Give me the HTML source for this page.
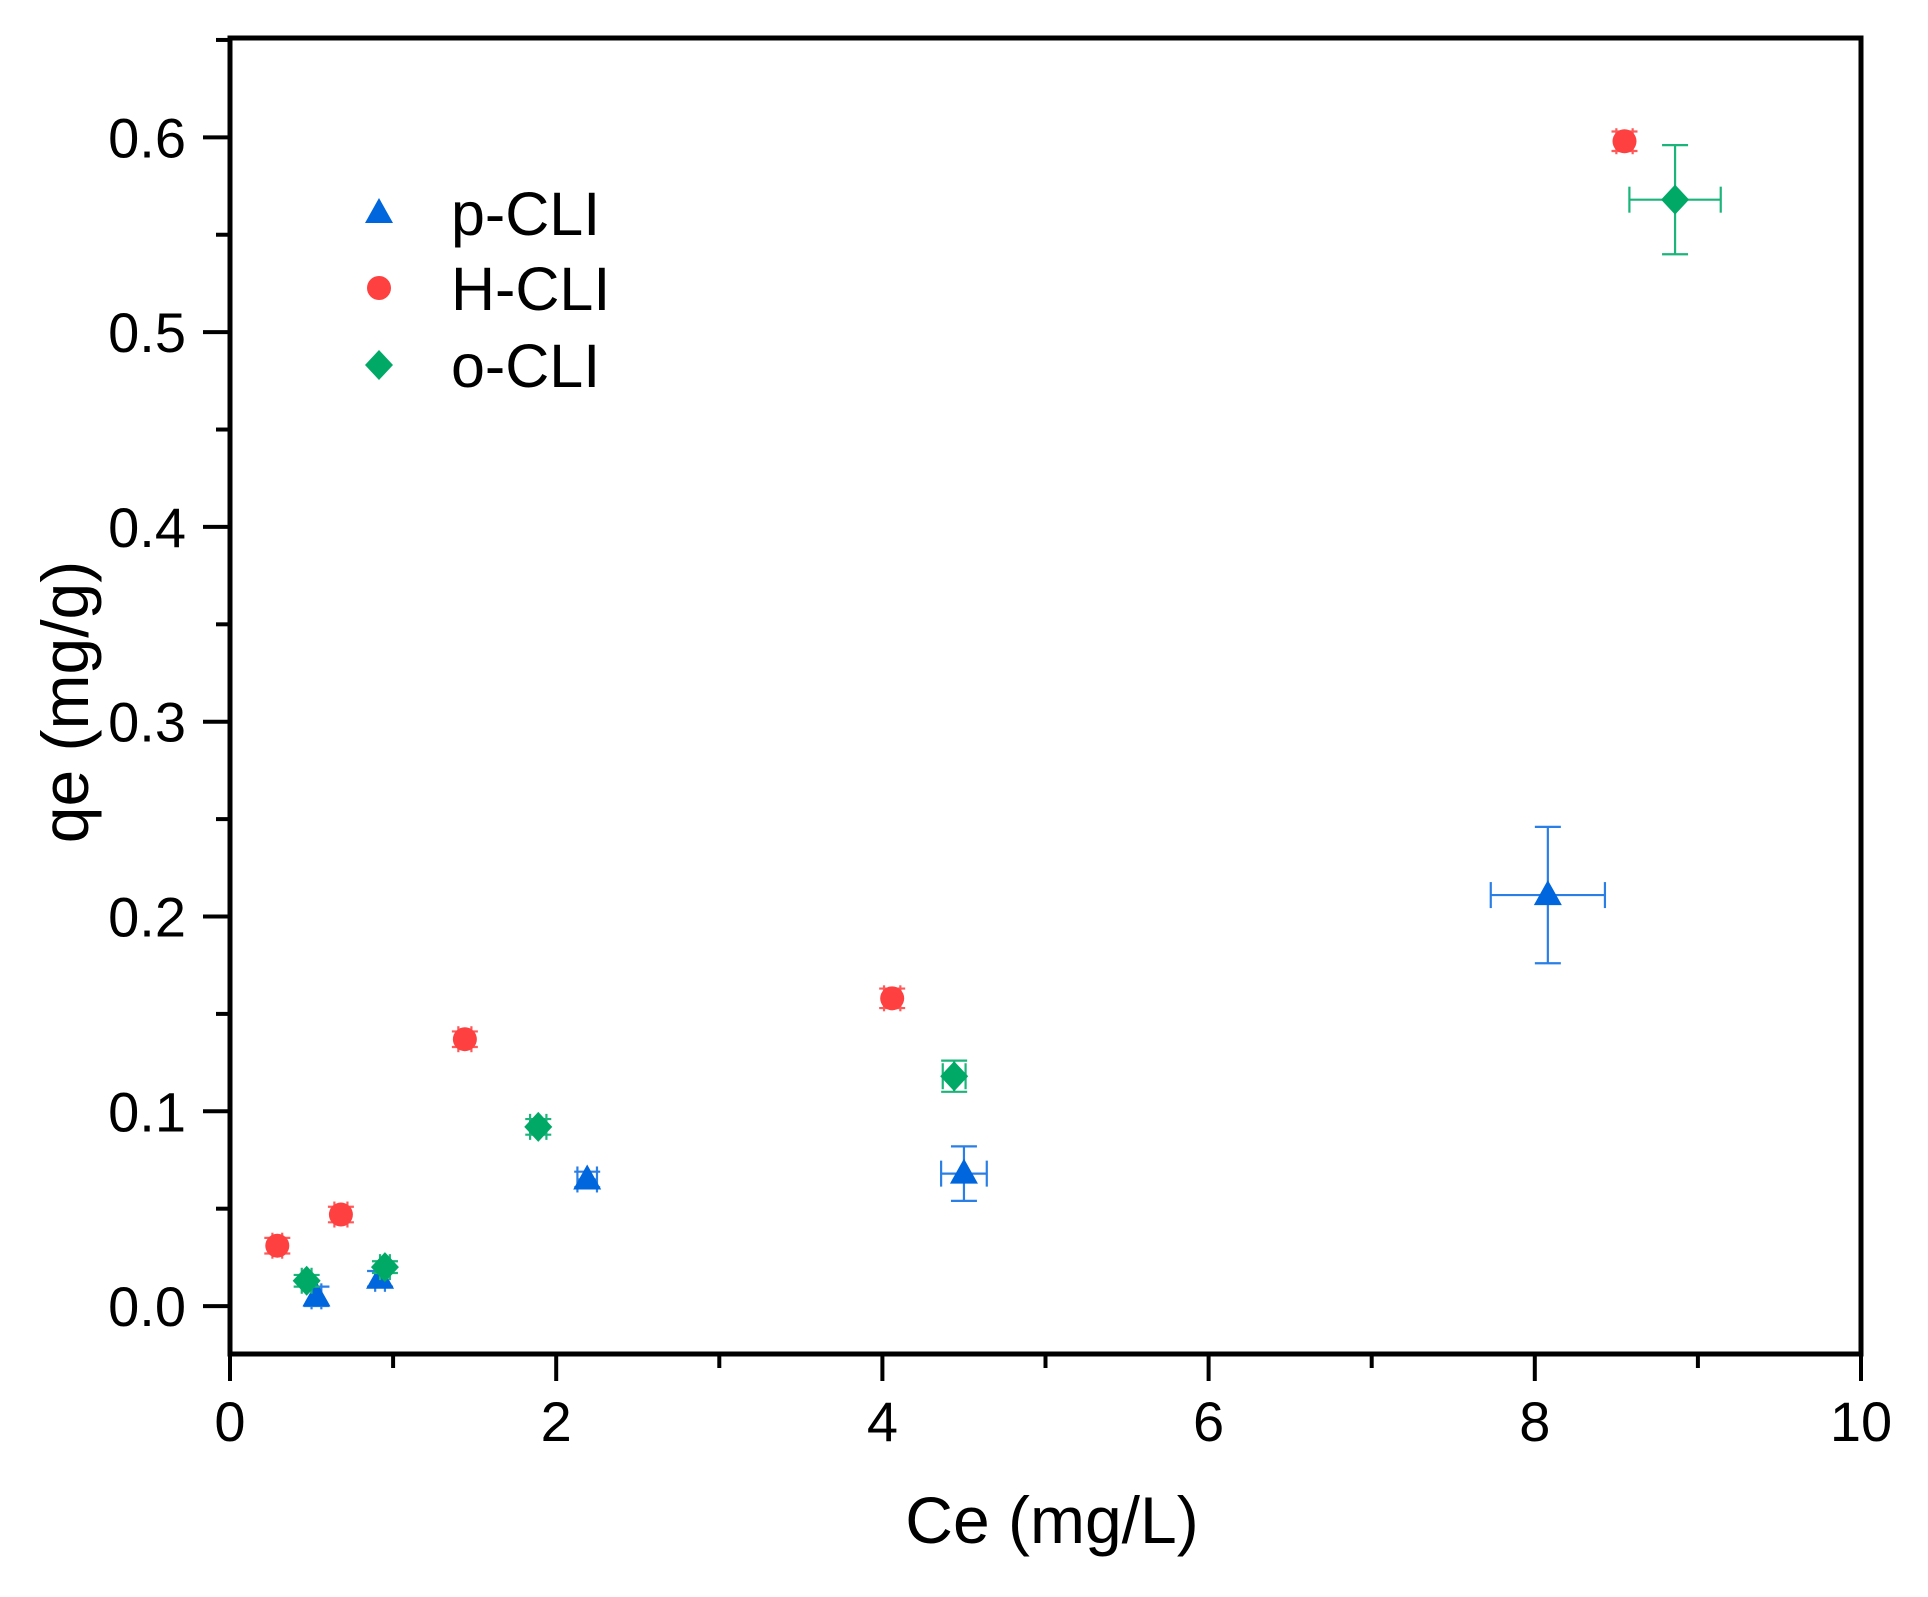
<!DOCTYPE html>
<html><head><meta charset="utf-8"><style>
html,body{margin:0;padding:0;background:#fff;}
svg{display:block;font-family:"Liberation Sans",Arial,sans-serif;}
</style></head><body>
<svg id="chart" width="1928" height="1597" viewBox="0 0 1928 1597" xmlns="http://www.w3.org/2000/svg">
<g id="axes"></g>
<g id="series"></g>
<g id="legend"></g>
</svg>
<script>
const xTicks = [0, 2, 4, 6, 8, 10];
const yTicks = [0.0, 0.1, 0.2, 0.3, 0.4, 0.5, 0.6];
const yTickLabels = ["0.0", "0.1", "0.2", "0.3", "0.4", "0.5", "0.6"];
const seriesNames = ["p-CLI", "H-CLI", "o-CLI"];
const pX = [0.53, 0.92, 2.19, 4.50, 8.08];
const pY = [0.005, 0.014, 0.065, 0.068, 0.211];
const pXErr = [0.03, 0.03, 0.06, 0.14, 0.35];
const pYErr = [0.005, 0.004, 0.004, 0.014, 0.035];
const hX = [0.29, 0.68, 1.44, 4.06, 8.55];
const hY = [0.031, 0.047, 0.137, 0.158, 0.598];
const hXErr = [0.03, 0.04, 0.04, 0.05, 0.05];
const hYErr = [0.004, 0.004, 0.004, 0.005, 0.005];
const oX = [0.47, 0.95, 1.89, 4.44, 8.86];
const oY = [0.013, 0.020, 0.092, 0.118, 0.568];
const oXErr = [0.03, 0.03, 0.05, 0.07, 0.28];
const oYErr = [0.003, 0.003, 0.004, 0.008, 0.028];

const NS = "http://www.w3.org/2000/svg";
const L = 230, R = 1861, T = 38, B = 1354;
const xMin = 0, xMax = 10, yMin = -0.0246, yMax = 0.651;
const sx = v => L + (v - xMin) / (xMax - xMin) * (R - L);
const sy = v => B - (v - yMin) / (yMax - yMin) * (B - T);
function mk(tag, attrs, parent){ const e = document.createElementNS(NS, tag); for (const k in attrs) e.setAttribute(k, attrs[k]); parent.appendChild(e); return e; }
const axes = document.getElementById('axes');
const series = document.getElementById('series');
const legend = document.getElementById('legend');

const frame = mk('rect', {x:L, y:T, width:R-L, height:B-T, fill:'none', stroke:'#000', 'stroke-width':5}, axes);



for (let i = 0; i < xTicks.length; i++) {
  const x = sx(xTicks[i]);
  const t = mk('line', {x1:x, y1:B, x2:x, y2:B+27, stroke:'#000', 'stroke-width':4}, axes);
  
  
  const lb = mk('text', {x:x, y:B+87, 'font-size':56, 'text-anchor':'middle'}, axes);
  lb.textContent = String(xTicks[i]);
  
  
  if (i < xTicks.length - 1) {
    const xm = sx((xTicks[i] + xTicks[i+1]) / 2);
    const m = mk('line', {x1:xm, y1:B, x2:xm, y2:B+14, stroke:'#000', 'stroke-width':4}, axes);
    
    
  }
}
for (let i = 0; i < yTicks.length; i++) {
  const y = sy(yTicks[i]);
  const t = mk('line', {x1:L-27, y1:y, x2:L, y2:y, stroke:'#000', 'stroke-width':4}, axes);
  
  
  const lb = mk('text', {x:L-44, y:y+20, 'font-size':56, 'text-anchor':'end'}, axes);
  lb.textContent = yTickLabels[i];
  
  
  const vals = [yTicks[i] - 0.05, yTicks[i] + 0.05];
  for (const v of vals) {
    if (v < yMin || v > yMax) continue;
    if (i > 0 && v < yTicks[i]) continue;
    const ym = sy(v);
    const m = mk('line', {x1:L-14, y1:ym, x2:L, y2:ym, stroke:'#000', 'stroke-width':4}, axes);
    
    
  }
}
const xt = mk('text', {x:1052, y:1543, 'font-size':66, 'text-anchor':'middle'}, axes);
xt.textContent = 'Ce (mg/L)';


const yt = mk('text', {x:0, y:0, 'font-size':66, 'text-anchor':'middle', transform:'translate(88,702) rotate(-90)'}, axes);
yt.textContent = 'qe (mg/g)';



function marker(shape, cx, cy, color, parent) {
  let e;
  if (shape === 'tri') e = mk('polygon', {points:`${cx},${cy-15} ${cx-14},${cy+10} ${cx+14},${cy+10}`, fill:color}, parent);
  else if (shape === 'circ') e = mk('circle', {cx:cx, cy:cy, r:12, fill:color}, parent);
  else e = mk('polygon', {points:`${cx},${cy-15} ${cx+14},${cy} ${cx},${cy+15} ${cx-14},${cy}`, fill:color}, parent);
  return e;
}
function drawSeries(name, xs, ys, xe, ye, shape, color, ecolor) {
  const g = mk('g', {}, series);
  
  
  for (let i = 0; i < xs.length; i++) {
    const cx = sx(xs[i]), cy = sy(ys[i]);
    const x1 = sx(xs[i]-xe[i]), x2 = sx(xs[i]+xe[i]), y1 = sy(ys[i]+ye[i]), y2 = sy(ys[i]-ye[i]);
    const eg = mk('g', {stroke:ecolor, 'stroke-width':2.2, fill:'none'}, g);
    
    
    mk('line', {x1:x1, y1:cy, x2:x2, y2:cy}, eg);
    mk('line', {x1:cx, y1:y1, x2:cx, y2:y2}, eg);
    mk('line', {x1:x1, y1:cy-13, x2:x1, y2:cy+13}, eg);
    mk('line', {x1:x2, y1:cy-13, x2:x2, y2:cy+13}, eg);
    mk('line', {x1:cx-13, y1:y1, x2:cx+13, y2:y1}, eg);
    mk('line', {x1:cx-13, y1:y2, x2:cx+13, y2:y2}, eg);
    const m = marker(shape, cx, cy, color, g);
    
    
  }
}
drawSeries('p-cli', pX, pY, pXErr, pYErr, 'tri', '#0066dd', '#2a7fe6');
drawSeries('h-cli', hX, hY, hXErr, hYErr, 'circ', '#ff4040', '#ff5a5a');
drawSeries('o-cli', oX, oY, oXErr, oYErr, 'dia', '#00aa66', '#1bb47a');

const shapes = ['tri', 'circ', 'dia'];
const colors = ['#0066dd', '#ff4040', '#00aa66'];
const legY = [213, 288, 365];
for (let i = 0; i < seriesNames.length; i++) {
  const g = mk('g', {}, legend);
  
  
  marker(shapes[i], 379, legY[i], colors[i], g);
  const t = mk('text', {x:451, y:legY[i]+22, 'font-size':61}, g);
  t.textContent = seriesNames[i];
}
</script>
</body></html>
